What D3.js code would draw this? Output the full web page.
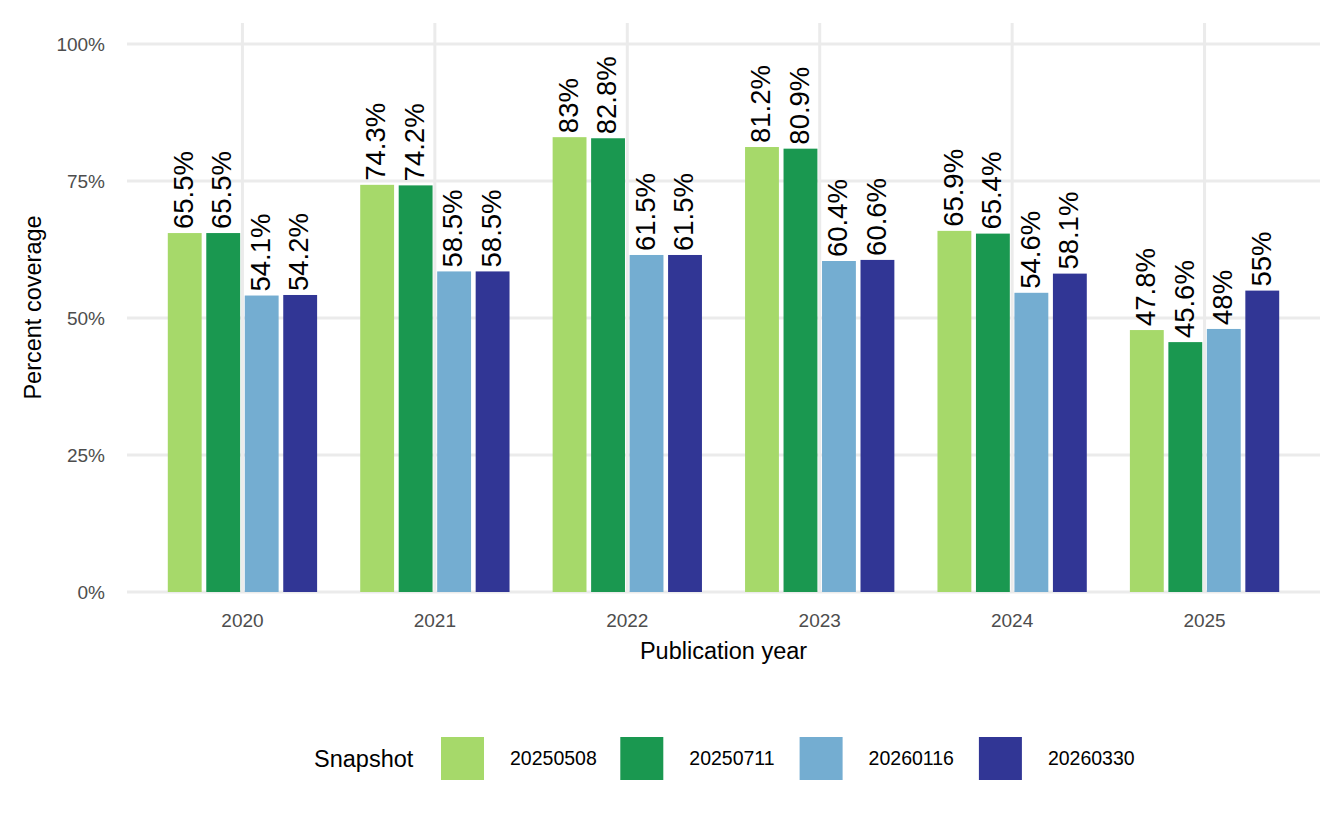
<!DOCTYPE html>
<html>
<head>
<meta charset="utf-8">
<script src="https://cdn.jsdelivr.net/npm/d3@7"></script>
<style>
  body { margin: 0; background: #fff; }
  text { font-family: "Liberation Sans", Arial, sans-serif; }
</style>
</head>
<body>
<div id="chart"></div>
<script>
'use strict';

// Data
const years = ['2020', '2021', '2022', '2023', '2024', '2025'];
const snapshots = ['20250508', '20250711', '20260116', '20260330'];
const colors = ['#a6d96a', '#1a9850', '#74add1', '#313695'];
const yTicks = [0, 25, 50, 75, 100];
// one row per year, one value per snapshot
const coverage = [
    [65.5, 65.5, 54.1, 54.2],
    [74.3, 74.2, 58.5, 58.5],
    [83, 82.8, 61.5, 61.5],
    [81.2, 80.9, 60.4, 60.6],
    [65.9, 65.4, 54.6, 58.1],
    [47.8, 45.6, 48, 55]
];

const width = 1344, height = 830;
const panel = { left: 127, right: 1320, top: 23, bottom: 592 };

let svg = d3.select('#chart').append('svg')
    .attr('width', width).attr('height', height);

// Scales
let x0 = d3.scaleBand().domain(years)
    .range([panel.left, panel.right]).paddingInner(0.2).paddingOuter(0.2);
let x1 = d3.scaleBand().domain(snapshots)
    .range([0, x0.bandwidth()]).paddingInner(0.12).paddingOuter(0.06);
let y = d3.scaleLinear().domain([0, 100]).range([panel.bottom, 44]);
let color = d3.scaleOrdinal().domain(snapshots).range(colors);

// Grid
let grid = svg.append('g').attr('stroke', '#ebebeb').attr('stroke-width', 3);
grid.selectAll('line.h').data(yTicks).join('line').classed('h', true)
    .attr('x1', panel.left).attr('x2', panel.right)
    .attr('y1', d => y(d)).attr('y2', d => y(d));
grid.selectAll('line.v').data(years).join('line').classed('v', true)
    .attr('x1', d => x0(d) + x0.bandwidth() / 2).attr('x2', d => x0(d) + x0.bandwidth() / 2)
    .attr('y1', panel.top).attr('y2', panel.bottom);

// Axes (no domain line, no ticks)
let yAxis = svg.append('g')
    .attr('transform', `translate(${panel.left - 19},0)`)
    .call(d3.axisLeft(y).tickValues(yTicks).tickFormat(d => d + '%').tickSize(0));
yAxis.select('.domain').remove();
yAxis.selectAll('text').attr('font-size', 19).attr('fill', '#4d4d4d')
    .attr('font-family', '"Liberation Sans", Arial, sans-serif');

let xAxis = svg.append('g')
    .attr('transform', `translate(0,${panel.bottom + 18})`)
    .call(d3.axisBottom(x0).tickSize(0));
xAxis.select('.domain').remove();
xAxis.selectAll('text').attr('font-size', 19).attr('fill', '#4d4d4d')
    .attr('font-family', '"Liberation Sans", Arial, sans-serif');

// Bars
let rows = years.flatMap((yr, i) => snapshots.map((s, j) => ({ year: yr, snap: s, value: coverage[i][j] })));

let groups = svg.append('g').selectAll('g.year')
    .data(years).join('g').classed('year', true)
    .attr('transform', d => `translate(${x0(d)},0)`);

groups.selectAll('rect')
    .data(yr => rows.filter(r => r.year === yr))
    .join('rect')
    .attr('x', d => x1(d.snap))
    .attr('width', x1.bandwidth())
    .attr('y', d => y(d.value))
    .attr('height', d => y(0) - y(d.value))
    .attr('fill', d => color(d.snap));

groups.selectAll('text.lab')
    .data(yr => rows.filter(r => r.year === yr))
    .join('text').classed('lab', true)
    .attr('transform', d => `translate(${x1(d.snap) + x1.bandwidth() / 2},${y(d.value) - 4}) rotate(-90)`)
    .attr('dy', '0.3em')
    .attr('font-size', 27.5)
    .attr('fill', '#000')
    .text(d => d.value + '%');

// Axis titles
svg.append('text')
    .attr('x', (panel.left + panel.right) / 2).attr('y', 659)
    .attr('text-anchor', 'middle').attr('font-size', 23.5)
    .text('Publication year');

svg.append('text')
    .attr('transform', `translate(41,${(panel.top + panel.bottom) / 2}) rotate(-90)`)
    .attr('text-anchor', 'middle').attr('font-size', 23.5)
    .text('Percent coverage');

// Legend
let legend = svg.append('g').attr('transform', 'translate(0,737)');
legend.append('text')
    .attr('x', 314).attr('y', 21.5).attr('dy', '0.35em')
    .attr('font-size', 23.5).text('Snapshot');

let items = legend.selectAll('g.item').data(snapshots).join('g').classed('item', true)
    .attr('transform', (d, i) => `translate(${441 + i * 179.3},0)`);
items.append('rect').attr('width', 43).attr('height', 43).attr('fill', d => color(d));
items.append('text').attr('x', 69).attr('y', 21.5).attr('dy', '0.35em')
    .attr('font-size', 19.5).text(d => d);
</script>
</body>
</html>
